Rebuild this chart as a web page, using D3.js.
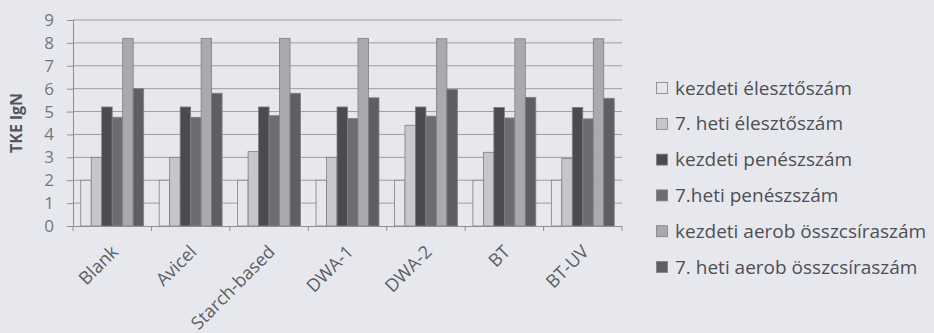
<!DOCTYPE html>
<html><head><meta charset="utf-8">
<script src="https://cdn.jsdelivr.net/npm/d3@7"></script>
<style>
html,body{margin:0;padding:0;background:#e7e8ee;}
svg{display:block;}
</style></head>
<body>
<svg id="chart" width="934" height="333"></svg>
<script>
const categories = ["Blank","Avicel","Starch-based","DWA-1","DWA-2","BT","BT-UV"];
const seriesNames = ["kezdeti élesztőszám","7. heti élesztőszám","kezdeti penészszám","7.heti penészszám","kezdeti aerob összcsíraszám","7. heti aerob összcsíraszám"];
const kezdetiEleszto = [2.0, 2.0, 2.0, 2.0, 2.0, 2.0, 2.0];
const hetiEleszto    = [3.0, 3.0, 3.25, 3.0, 4.4, 3.22, 2.95];
const kezdetiPenesz  = [5.2, 5.2, 5.2, 5.2, 5.2, 5.18, 5.18];
const hetiPenesz     = [4.75, 4.75, 4.82, 4.7, 4.8, 4.72, 4.68];
const kezdetiAerob   = [8.2, 8.2, 8.2, 8.2, 8.18, 8.18, 8.18];
const hetiAerob      = [6.0, 5.8, 5.8, 5.6, 5.97, 5.62, 5.58];
const yTicks = [0,1,2,3,4,5,6,7,8,9];
const seriesValues = [kezdetiEleszto, hetiEleszto, kezdetiPenesz, hetiPenesz, kezdetiAerob, hetiAerob];
const colors = ["#e6e7ec","#c6c7cc","#4a4b50","#6c6d72","#a9aaaf","#5e5f64"];
const FONT = "'Open Sans', sans-serif";

const svg = d3.select("#chart");
const m = {left:73, right:312, top:20, bottom:107};
const W = 934, H = 333;
const x0 = d3.scaleBand().domain(categories).range([m.left, W - m.right]).paddingInner(0).paddingOuter(0);
const x1 = d3.scaleBand().domain(d3.range(seriesNames.length)).range([0, x0.bandwidth()]).paddingInner(0).paddingOuter(0.74);
const y = d3.scaleLinear().domain([0,9]).range([H - m.bottom, m.top]);

// gridlines
svg.append("g").selectAll("line").data(yTicks.filter(t=>t>0)).join("line")
  .attr("x1", m.left).attr("x2", W - m.right)
  .attr("y1", d=>y(d)).attr("y2", d=>y(d))
  .attr("stroke","#9c9da2").attr("stroke-width",1);

// y axis
const yAxis = d3.axisLeft(y).tickValues(yTicks).tickSize(6).tickPadding(13).tickFormat(d3.format("d"));
const gy = svg.append("g").attr("transform",`translate(${m.left},0)`).call(yAxis);
gy.select(".domain").attr("stroke","#8e8f94");
gy.selectAll(".tick line").attr("stroke","#8e8f94");
gy.selectAll("text").attr("fill","#75767b").style("font-family",FONT).style("font-size","17px");

// bars
const groups = svg.append("g").selectAll("g").data(categories).join("g")
  .attr("transform", d=>`translate(${x0(d)},0)`);
groups.selectAll("rect").data((c,ci)=>seriesValues.map((s,si)=>({si, v:s[ci]}))).join("rect")
  .attr("x", d=>x1(d.si)).attr("width", x1.bandwidth())
  .attr("y", d=>y(d.v)).attr("height", d=>y(0)-y(d.v))
  .attr("fill", d=>colors[d.si]).attr("stroke","#7e7f84").attr("stroke-width",0.8);

// x axis
const xAxis = d3.axisBottom(x0).tickSize(0).tickFormat("");
const gx = svg.append("g").attr("transform",`translate(0,${y(0)})`).call(xAxis);
gx.select(".domain").attr("stroke","#8e8f94");
// category boundary ticks
svg.append("g").selectAll("line").data(d3.range(categories.length+1)).join("line")
  .attr("x1", i=> m.left + i*x0.step()).attr("x2", i=> m.left + i*x0.step())
  .attr("y1", y(0)).attr("y2", y(0)+5).attr("stroke","#8e8f94");
// rotated labels
svg.append("g").selectAll("text").data(categories).join("text")
  .attr("transform", d=>`translate(${x0(d)+x0.bandwidth()/2+7},${y(0)+27}) rotate(-45)`)
  .attr("text-anchor","end").attr("fill","#5e5f64")
  .style("font-family",FONT).style("font-size","18px")
  .text(d=>d);

// y label
svg.append("text").attr("transform",`translate(22,${(y(0)+y(9))/2}) rotate(-90)`)
  .attr("text-anchor","middle").attr("fill","#55565b").style("font-weight","bold")
  .style("font-family",FONT).style("font-size","16px")
  .text("TKE lgN");

// legend
const lg = svg.append("g").attr("transform","translate(656,88)");
const li = lg.selectAll("g").data(seriesNames).join("g").attr("transform",(d,i)=>`translate(0,${i*35.8})`);
li.append("rect").attr("x",0.5).attr("y",-5.5).attr("width",11).attr("height",11)
  .attr("fill",(d,i)=>colors[i]).attr("stroke","#7e7f84").attr("stroke-width",0.8);
li.append("text").attr("x",19).attr("y",0).attr("dy","0.35em").attr("fill","#4e4f54")
  .style("font-family",FONT).style("font-size","19px")
  .text(d=>d);
</script>
</body></html>
